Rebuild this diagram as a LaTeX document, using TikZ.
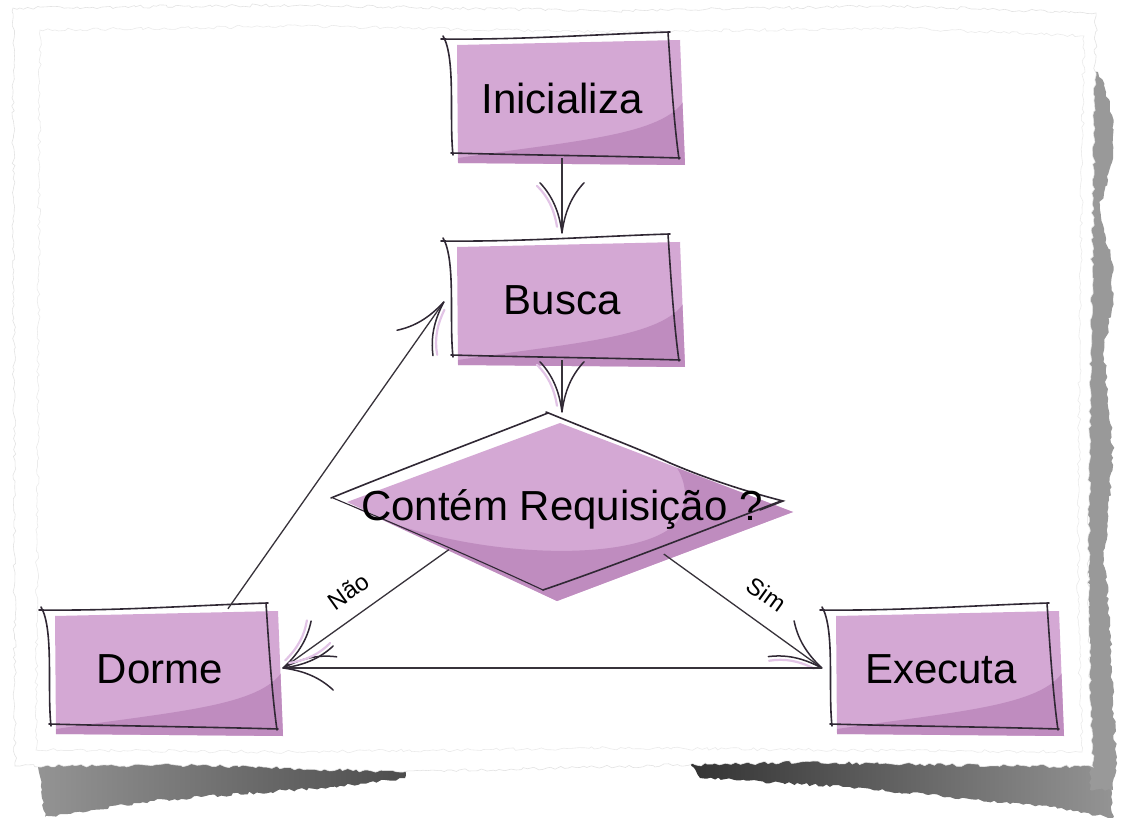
\documentclass[tikz,border=0pt]{standalone}
\usepackage{fontspec}
\setmainfont{Liberation Sans}
\usetikzlibrary{calc,shapes.geometric,decorations.markings,decorations.pathmorphing,backgrounds}

\definecolor{boxfill}{RGB}{212,168,212}
\definecolor{boxdark}{RGB}{191,140,191}
\definecolor{ink}{RGB}{48,40,52}
\definecolor{wire}{RGB}{55,50,58}
\definecolor{lav}{RGB}{226,196,230}

\tikzset{
  bigtext/.style={font=\fontsize{42}{50}\selectfont, text=black},
  procbox/.style={bigtext, minimum width=226pt, minimum height=120pt, inner sep=0pt},
  decision/.style={bigtext, shape=diamond, minimum width=452pt, minimum height=178pt, inner sep=0pt},
  edgelbl/.style={font=\fontsize{24}{28}\selectfont, text=black, inner sep=0pt},
  outline/.style={draw=ink, line width=1.6pt, line cap=round},
  wireline/.style={draw=wire, line width=1.3pt},
  torn/.style={decorate, decoration={random steps, segment length=4pt, amplitude=1.6pt}},
  sketchtip/.style={postaction={decorate, decoration={markings, mark=at position 1 with {
      \draw[lav, line width=2.2pt, line cap=round] (-6,5) .. controls (-24,8) and (-36,14) .. (-47,25);
      \draw[ink, line width=1.5pt, line cap=round] (0,0) .. controls (-22,3) and (-37,10) .. (-50,22);
      \draw[ink, line width=1.5pt, line cap=round] (0,0) .. controls (-22,-3) and (-37,-10) .. (-50,-22);
    }}}},
}

% hand-drawn process box behind a named node
\newcommand\sketchbox[1]{%
  \begin{scope}[shift={(#1.center)}]
    \fill[boxfill] (-105,-53) -- (118,-58) -- (123,67) -- (-104,65) -- cycle;
    \fill[boxdark] (-104,60) .. controls (10,43) and (95,38) .. (120.5,5) -- (123,67) -- (-104,65) -- cycle;
    \draw[outline] (-121,-59) .. controls (-40,-58) and (40,-64) .. (108,-66);
    \draw[outline] (106,-66) .. controls (109,-20) and (112,25) .. (117,61);
    \draw[outline] (118,60) .. controls (50,58) and (-40,57) .. (-111,55);
    \draw[outline] (-119,-62) .. controls (-106,-40) and (-113,20) .. (-109,57);
  \end{scope}}

% hand-drawn decision diamond behind a named node
\newcommand\sketchdiamond[1]{%
  \begin{scope}[shift={(#1.center)}]
    \fill[boxfill] (-2,-82) -- (231,7) -- (-5,96) -- (-215,-3) -- cycle;
    \fill[boxdark] (-214,-1) .. controls (-120,50) and (60,62) .. (110,22)
      .. controls (127,6) and (126,-20) .. (115,-37) -- (231,7) -- (-5,96) -- cycle;
    \draw[outline] (-231,-7) .. controls (-160,-36) and (-80,-66) .. (-14,-92);
    \draw[outline] (-16,-93) .. controls (40,-70) and (80,-55) .. (108,-42)
      .. controls (150,-24) and (190,-12) .. (221,-4) -- (198,5);
    \draw[outline] (219,-4) .. controls (150,22) and (60,58) .. (-19,85);
    \draw[outline, line width=1.1pt] (-19,85) .. controls (-90,52) and (-160,22) .. (-229,-7);
  \end{scope}}

\begin{document}
\begin{tikzpicture}[x=1pt, y=-1pt]
  \useasboundingbox (0,0) rectangle (1125,818);
  \pgfmathsetseed{17}

  % nodes
  \node[procbox] (ini)   at (562,98)  {Inicializa};
  \node[procbox] (busca) at (562,300) {Busca};
  \node[decision] (dec)  at (562,505) {\raisebox{-15pt}[0pt][0pt]{\makebox[0pt]{Contém Requisição ?}}};
  \node[procbox] (dorme) at (160,669) {Dorme};
  \node[procbox] (exe)   at (941,669) {Executa};

  \begin{scope}[on background layer]
    \fill[white] (0,0) rectangle (1125,818);
    % torn paper shadow
    \shade[torn, left color=black!42, right color=black!70]
      (37,755) -- (200,758) -- (330,762) -- (408,768) -- (405,778) -- (330,787)
      -- (150,801) -- (45,817) -- cycle;
    \shade[torn, left color=black!80, right color=black!42]
      (690,762) -- (1108,756) -- (1113,818) -- (1050,807) -- (950,797)
      -- (850,787) -- (700,778) -- cycle;
    \fill[torn, black!40]
      (1085,70) -- (1098,72) -- (1106,92) -- (1112,115) -- (1113,150) -- (1108,180)
      -- (1100,205) -- (1104,232) -- (1112,262) -- (1113,300) -- (1104,350)
      -- (1108,400) -- (1113,450) -- (1109,500) -- (1104,560) -- (1110,620)
      -- (1113,700) -- (1116,760) -- (1113,790) -- (1090,790) -- cycle;
    % paper sheet
    \fill[torn, white, draw=black!11, line width=0.6pt]
      (13,8) -- (300,5) -- (600,11) -- (900,6) -- (1096,13) -- (1093,200)
      -- (1090,400) -- (1088,600) -- (1093,767) -- (800,762) -- (400,772)
      -- (200,765) -- (15,766) -- cycle;
    \draw[torn, black!8, line width=0.6pt]
      (40,30) -- (300,26) -- (600,32) -- (900,28) -- (1084,36) -- (1080,300)
      -- (1078,600) -- (1082,752) -- (600,748) -- (300,752) -- (36,750) -- cycle;

    \sketchbox{ini}
    \sketchbox{busca}
    \sketchbox{dorme}
    \sketchbox{exe}
    \sketchdiamond{dec}
  \end{scope}

  % connectors
  \draw[wireline, sketchtip] (ini.south) -- ($(busca.north)+(0,-7)$);
  \draw[wireline, sketchtip] (busca.south) -- ($(dec.north)+(0,-4)$);
  \draw[wireline, sketchtip] (dec.south west)
    -- node[edgelbl, pos=0.52, sloped, above=15pt] {Não} ($(dorme.east)+(10,-1)$);
  \draw[wireline, sketchtip] ($(dec.south)!0.45!(dec.east)$)
    -- node[edgelbl, pos=0.55, sloped, above=18pt] {Sim} ($(exe.west)+(-6,-1)$);
  \draw[wireline, sketchtip] ($(exe.west)+(-6,-1)$) -- ($(dorme.east)+(10,-1)$);
  \draw[wireline, sketchtip] ($(dorme.north)!0.6!(dorme.north east)$) -- ($(busca.west)+(-5,2)$);
\end{tikzpicture}
\end{document}
